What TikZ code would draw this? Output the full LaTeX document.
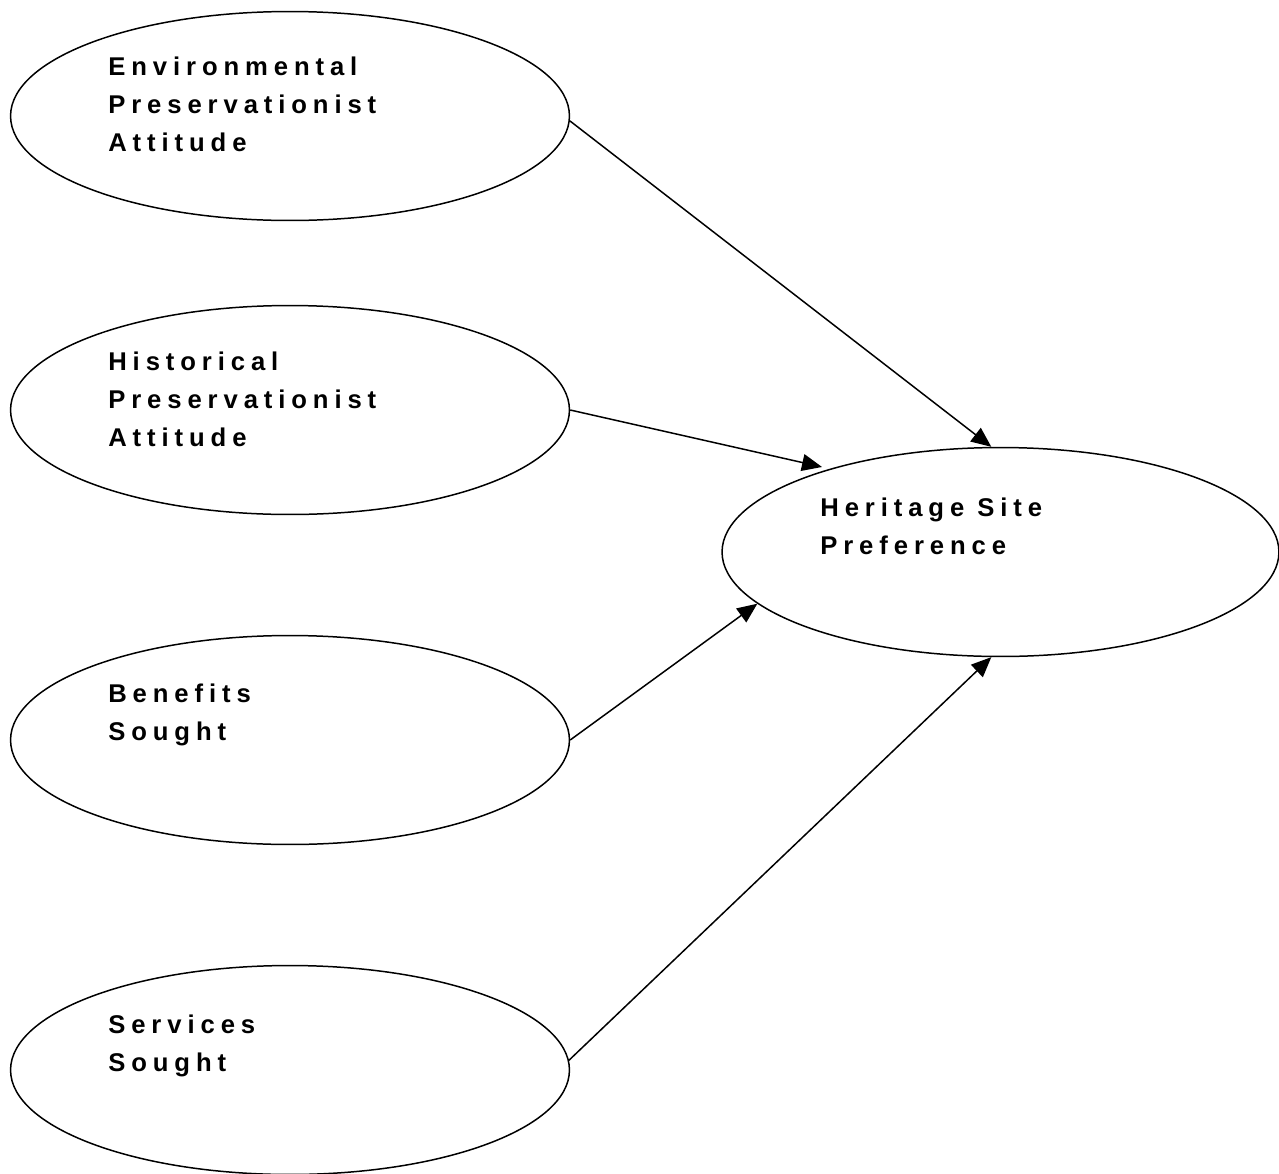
\documentclass[tikz,border=0pt]{standalone}
\usepackage{fontspec}
\setmainfont{Liberation Sans}[LetterSpace=23, BoldFont={Liberation Sans Bold}]
\usetikzlibrary{shapes.geometric, arrows.meta}
\tikzstyle{factor} = [ellipse, draw=black, line width=0.85pt, minimum width=11.18cm, minimum height=4.18cm, inner sep=0pt]
\tikzstyle{caption} = [anchor=base west, align=left, inner sep=0pt, font=\bfseries\fontsize{14.6}{21.6}\selectfont]
\tikzstyle{arrow} = [line width=0.85pt,->,>={Triangle[length=4mm,width=3.4mm]}]

\begin{document}
\begin{tikzpicture}[x=0.02cm, y=-0.02cm]
\useasboundingbox (0,0) rectangle (1279,1174);

\node (env) [factor] at (290,116) {};
\node (hist) [factor] at (290,410) {};
\node (benefits) [factor] at (290,740) {};
\node (services) [factor] at (290,1070) {};
\node (pref) [factor, minimum width=11.14cm] at (1000.5,552) {};

% text sits on the baseline of its last line
\node (env_text) [caption] at (108,151) {Environmental\\Preservationist\\Attitude};
\node (hist_text) [caption] at (108,446) {Historical\\Preservationist\\Attitude};
\node (benefits_text) [caption] at (108,740) {Benefits\\Sought};
\node (services_text) [caption] at (108,1071) {Services\\Sought};
\node (pref_text) [caption] at (820,554) {Heritage Site\\Preference};

\draw [arrow] (env.-1) -- (pref.95);
\draw [arrow, shorten >=0.16cm] (hist.east) -- (pref.154);
\draw [arrow] (benefits.east) -- (pref.192);
\draw [arrow] (services.2) -- (pref.265);

\end{tikzpicture}
\end{document}
